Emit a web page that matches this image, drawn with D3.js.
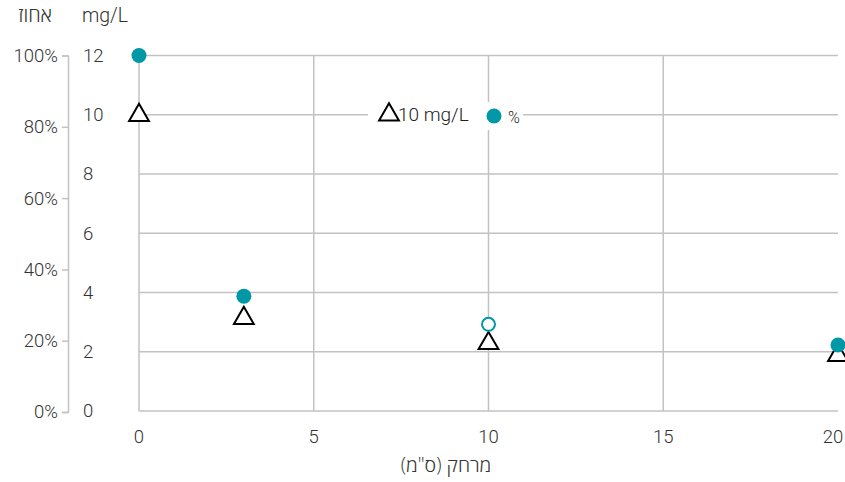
<!DOCTYPE html>
<html><head><meta charset="utf-8">
<script src="https://cdn.jsdelivr.net/npm/d3@7"></script>
<style>
body{margin:0;background:#fff;}
text{font-family:Roboto,"Noto Sans",sans-serif;}
</style></head>
<body><svg id="c" width="845" height="482"></svg>
<script>
const distances = [0, 3, 10, 20];
const concentrationMgL = [10, 3.15, 2.3, 1.9];
const percentValues = [100, 32.5, 24.6, 18.8];
const percentFilled = [true, true, false, true];
const xTicks = [0, 5, 10, 15, 20];
const mgTicks = [0, 2, 4, 6, 8, 10, 12];
const pctTicks = [0, 20, 40, 60, 80, 100];
const xTitle = "מרחק (ס\"מ)";
const mgTitle = "mg/L";
const pctTitle = "אחוז";
const legendLabels = ["10 mg/L", "%"];

const teal = "#0097a7", grid = "#c2c2c2", txt = "#333";
const FS = 18.5;
const heb = "'Open Sans', 'Noto Sans', sans-serif";
const svg = d3.select("#c");
const x = d3.scaleLinear().domain([0, 20]).range([139, 838]);
const yMg = d3.scaleLinear().domain([0, 12]).range([411, 55.5]);
const yPct = d3.scaleLinear().domain([0, 100]).range([412, 55.5]);

// horizontal grid
svg.append("g").selectAll("line").data(mgTicks.filter(d => d > 0)).join("line")
  .attr("x1", x(0)).attr("x2", x(20)).attr("y1", d => yMg(d)).attr("y2", d => yMg(d))
  .attr("stroke", grid).attr("stroke-width", 1.5);
// vertical grid
svg.append("g").selectAll("line").data(xTicks.filter(d => d > 0 && d < 20)).join("line")
  .attr("x1", d => x(d)).attr("x2", d => x(d)).attr("y1", yMg(12)).attr("y2", yMg(0))
  .attr("stroke", grid).attr("stroke-width", 1.5);
// axis lines
svg.append("line").attr("x1", x(0)).attr("x2", x(0)).attr("y1", yMg(12)).attr("y2", yMg(0))
  .attr("stroke", grid).attr("stroke-width", 1.5);
svg.append("line").attr("x1", x(0)).attr("x2", x(20)).attr("y1", yMg(0)).attr("y2", yMg(0))
  .attr("stroke", grid).attr("stroke-width", 1.5);

// percent axis
const pAx = svg.append("g").attr("transform", "translate(68,0)")
  .call(d3.axisLeft(yPct).tickValues(pctTicks).tickFormat(d => d + "%").tickSize(6).tickPadding(4));
pAx.select(".domain").attr("stroke", grid).attr("stroke-width", 1.5);
pAx.selectAll(".tick line").attr("stroke", grid).attr("stroke-width", 1.5);
pAx.selectAll("text").attr("font-size", FS).attr("font-weight", 300).attr("fill", txt)
  .attr("font-family", "Roboto");

// mg/L labels
svg.append("g").selectAll("text").data(mgTicks).join("text")
  .attr("x", 83).attr("y", d => yMg(d)).attr("dy", "0.35em")
  .attr("font-size", FS).attr("font-weight", 300).attr("fill", txt).text(d => d);

// x tick labels
svg.append("g").selectAll("text").data(xTicks).join("text")
  .attr("x", d => x(d) - (d === 20 ? 5 : 0)).attr("y", 443)
  .attr("text-anchor", "middle")
  .attr("font-size", FS).attr("font-weight", 300).attr("fill", txt).text(d => d);

// titles
svg.append("text").attr("x", 82).attr("y", 22).attr("font-size", 19.5).attr("font-weight", 300)
  .attr("fill", txt).text(mgTitle);
svg.append("text").attr("x", 52).attr("y", 22).attr("text-anchor", "end")
  .style("font-family", heb)
  .attr("font-size", 20).attr("font-weight", 300).attr("fill", txt).text(pctTitle);
svg.append("text").attr("x", 446).attr("y", 472).attr("text-anchor", "middle")
  .style("font-family", heb)
  .attr("font-size", 19.5).attr("font-weight", 300).attr("fill", txt).text(xTitle);

// data
const tri = d3.symbol().type(d3.symbolTriangle).size(170);
const pts = distances.map((d, i) => ({d, mg: concentrationMgL[i], p: percentValues[i], f: percentFilled[i]}));
svg.append("g").selectAll("path").data(pts).join("path")
  .attr("d", tri).attr("transform", d => `translate(${x(d.d)},${yMg(d.mg) + 0.5})`)
  .attr("fill", "#fff").attr("stroke", "#000").attr("stroke-width", 2);
svg.append("g").selectAll("circle").data(pts).join("circle")
  .attr("cx", d => x(d.d)).attr("cy", d => yPct(d.p)).attr("r", d => d.f ? 7.5 : 6.5)
  .attr("fill", d => d.f ? teal : "#fff").attr("stroke", d => d.f ? "none" : teal)
  .attr("stroke-width", 2);

// legend
const lg = svg.append("g");
lg.append("rect").attr("x", 368).attr("y", 102).attr("width", 155).attr("height", 28).attr("fill", "#fff");
lg.append("path").attr("d", tri).attr("transform", `translate(389,${yMg(10)})`)
  .attr("fill", "#fff").attr("stroke", "#000").attr("stroke-width", 2);
lg.append("text").attr("x", 398).attr("y", yMg(10)).attr("dy", "0.35em").attr("font-size", 19)
  .attr("font-weight", 300).attr("fill", "#222").text(legendLabels[0]);
lg.append("circle").attr("cx", 494).attr("cy", 116).attr("r", 7.5).attr("fill", teal);
lg.append("text").attr("x", 508).attr("y", 117).attr("dy", "0.35em").attr("font-size", 16)
  .attr("font-weight", 300).attr("fill", "#222").text(legendLabels[1]);
</script></body></html>
